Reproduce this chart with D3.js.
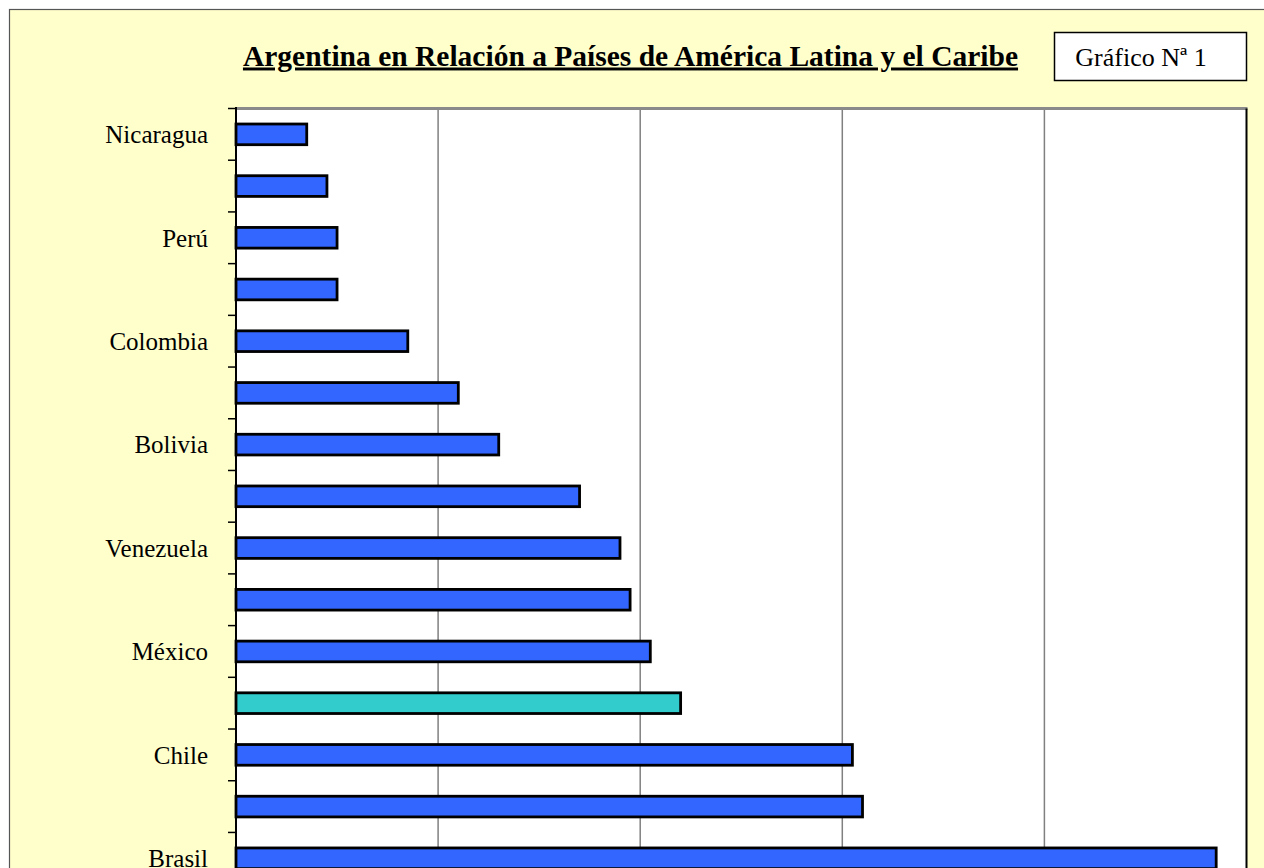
<!DOCTYPE html>
<html>
<head>
<meta charset="utf-8">
<script src="https://cdn.jsdelivr.net/npm/d3@7"></script>
<style>
  html, body { margin: 0; padding: 0; background: #ffffff; overflow: hidden; }
  svg { display: block; }
</style>
</head>
<body>
<svg id="chart" width="1264" height="868"></svg>
<script>
// Data (top to bottom as drawn)
const categories = ["Nicaragua", "Ecuador", "Perú", "Paraguay", "Colombia", "Uruguay", "Bolivia", "Cuba",
                    "Venezuela", "Costa Rica", "México", "Argentina", "Chile", "Panamá", "Brasil"];
const values = [3.5, 4.5, 5.0, 5.0, 8.5, 11.0, 13.0, 17.0, 19.0, 19.5, 20.5, 22.0, 30.5, 31.0, 48.5];
const highlighted = ["Argentina"];
const xTicks = [0, 10, 20, 30, 40, 50];
const titleText = "Argentina en Relación a Países de América Latina y el Caribe";
const badgeText = "Gráfico Nª 1";

const svg = d3.select("#chart");
const font = "'Liberation Serif', 'Times New Roman', serif";

// chart area background
svg.append("rect").attr("x", 9.5).attr("y", 9.5).attr("width", 1270).attr("height", 880)
  .attr("fill", "#FFFFCC").attr("stroke", "#555555").attr("stroke-width", 1.2);

const plotLeft = 236, plotRight = 1246.5, plotTop = 108.5;
const step = 51.71;
const plotBottom = plotTop + categories.length * step;

const x = d3.scaleLinear().domain([0, 50]).range([plotLeft, plotRight]);
const y = d3.scaleBand().domain(categories).range([plotTop, plotBottom])
  .paddingInner(0.6).paddingOuter(0.3);

// plot area
svg.append("rect").attr("x", plotLeft).attr("y", plotTop)
  .attr("width", plotRight - plotLeft).attr("height", plotBottom - plotTop)
  .attr("fill", "#ffffff");

// gridlines
svg.append("g").selectAll("line").data(xTicks.filter(t => t > 0 && t < 50)).join("line")
  .attr("x1", d => x(d)).attr("x2", d => x(d))
  .attr("y1", plotTop).attr("y2", plotBottom)
  .attr("stroke", "#808080").attr("stroke-width", 1.5);

// plot borders
svg.append("line").attr("x1", plotLeft).attr("x2", plotRight + 1).attr("y1", plotTop).attr("y2", plotTop)
  .attr("stroke", "#8a8a8a").attr("stroke-width", 3);
svg.append("line").attr("x1", plotRight).attr("x2", plotRight).attr("y1", plotTop).attr("y2", plotBottom)
  .attr("stroke", "#000000").attr("stroke-width", 2);

// bars
svg.append("g").selectAll("rect").data(categories).join("rect")
  .attr("x", x(0))
  .attr("y", d => y(d))
  .attr("width", (d, i) => x(values[i]) - x(0))
  .attr("height", y.bandwidth())
  .attr("fill", d => highlighted.includes(d) ? "#33CCCC" : "#3366FF")
  .attr("stroke", "#000000").attr("stroke-width", 2.8);

// y axis line and ticks
svg.append("line").attr("x1", plotLeft).attr("x2", plotLeft).attr("y1", plotTop - 1.5).attr("y2", plotBottom)
  .attr("stroke", "#000000").attr("stroke-width", 2);
const tickYs = d3.range(categories.length + 1).map(i => plotTop + i * step);
svg.append("g").selectAll("line").data(tickYs).join("line")
  .attr("x1", plotLeft - 8).attr("x2", plotLeft).attr("y1", d => d).attr("y2", d => d)
  .attr("stroke", "#000000").attr("stroke-width", 1.5);

// category labels (every other one)
svg.append("g").selectAll("text").data(categories.filter((d, i) => i % 2 === 0)).join("text")
  .attr("x", 208)
  .attr("y", d => y(d) + y.bandwidth() / 2)
  .attr("dy", "0.35em")
  .attr("text-anchor", "end")
  .attr("font-family", font).attr("font-size", 25).attr("fill", "#000")
  .text(d => d);

// title
svg.append("text").attr("x", 630.5).attr("y", 65.5)
  .attr("text-anchor", "middle")
  .attr("font-family", font).attr("font-size", 29.5).attr("font-weight", "bold")
  .attr("text-decoration", "underline").attr("fill", "#000")
  .text(titleText);

// badge
svg.append("rect").attr("x", 1054.5).attr("y", 32.5).attr("width", 192).attr("height", 48)
  .attr("fill", "#ffffff").attr("stroke", "#000000").attr("stroke-width", 1.5);
svg.append("text").attr("x", 1141).attr("y", 66)
  .attr("text-anchor", "middle")
  .attr("font-family", font).attr("font-size", 26).attr("fill", "#000")
  .text(badgeText);
</script>
</body>
</html>
